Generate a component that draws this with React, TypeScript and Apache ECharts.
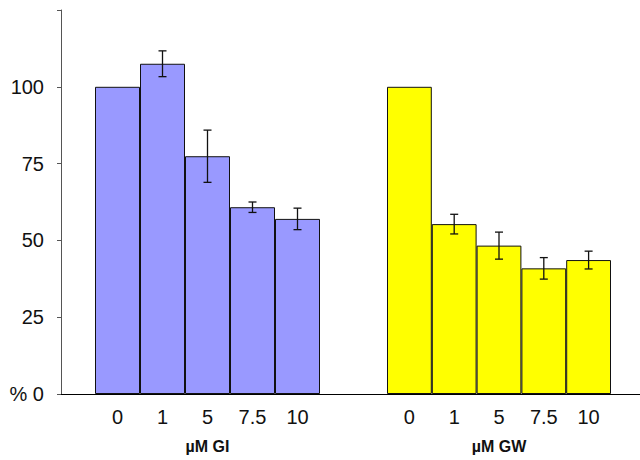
import React, { useEffect, useRef } from "react";
import * as echarts from "echarts";

const doses = ["0", "1", "5", "7.5", "10"];
const giMeans = [100, 107.5, 77.4, 60.8, 57.0];
const giErrors = [0, 4.2, 8.5, 1.7, 3.5];
const gwMeans = [100, 55.3, 48.3, 40.9, 43.6];
const gwErrors = [0, 3.2, 4.4, 3.5, 2.9];
const yTicks = [0, 25, 50, 75, 100, 125];
const groupNames = ["µM GI", "µM GW"];

const FONT = "Arial, 'Liberation Sans', sans-serif";

function errData(means: number[], errs: number[]) {
  return means
    .map((m, i) => [i, m - errs[i], m + errs[i], errs[i]])
    .filter((d) => d[3] > 0);
}

function renderErr(params: any, api: any) {
  const x = api.value(0);
  const lo = api.coord([x, api.value(1)]);
  const hi = api.coord([x, api.value(2)]);
  const h = 4;
  const style = { stroke: "#111", lineWidth: 1.3 };
  return {
    type: "group",
    children: [
      { type: "line", shape: { x1: hi[0], y1: hi[1], x2: lo[0], y2: lo[1] }, style },
      { type: "line", shape: { x1: hi[0] - h, y1: hi[1], x2: hi[0] + h, y2: hi[1] }, style },
      { type: "line", shape: { x1: lo[0] - h, y1: lo[1], x2: lo[0] + h, y2: lo[1] }, style },
    ],
  };
}

export default function App() {
  const ref = useRef<HTMLDivElement>(null);
  useEffect(() => {
    document.body.style.margin = "0";
    const chart = echarts.init(ref.current!, null, { renderer: "svg" });
    const groupX = (idx: number) => ({
      type: "category",
      gridIndex: idx,
      data: doses,
      axisLine: { show: false },
      axisTick: { show: false },
      axisLabel: { fontSize: 20, margin: 13, color: "#111", fontFamily: FONT },
      name: groupNames[idx - 1],
      nameLocation: "middle",
      nameGap: 44,
      nameTextStyle: { fontSize: 16, fontWeight: "bold", color: "#111", fontFamily: FONT },
    });
    const hiddenY = (idx: number) => ({
      type: "value",
      gridIndex: idx,
      min: yTicks[0],
      max: yTicks[yTicks.length - 1],
      show: false,
      splitLine: { show: false },
    });
    const bar = (idx: number, data: number[], color: string) => ({
      type: "bar",
      xAxisIndex: idx,
      yAxisIndex: idx,
      data,
      barWidth: "100%",
      itemStyle: { color, borderColor: "#111", borderWidth: 1 },
    });
    const err = (idx: number, means: number[], errs: number[]) => ({
      type: "custom",
      xAxisIndex: idx,
      yAxisIndex: idx,
      data: errData(means, errs),
      renderItem: renderErr,
      z: 5,
    });
    chart.setOption({
      animation: false,
      backgroundColor: "#fff",
      grid: [
        { left: 61, right: 0, top: 10, height: 384 },
        { left: 95, width: 225, top: 10, height: 384 },
        { left: 387, width: 224, top: 10, height: 384 },
      ],
      xAxis: [
        {
          type: "value",
          gridIndex: 0,
          min: 0,
          max: 1,
          axisLine: { show: true, onZero: false, lineStyle: { color: "#000", width: 1 } },
          axisTick: { show: false },
          axisLabel: { show: false },
          splitLine: { show: false },
        },
        groupX(1),
        groupX(2),
      ],
      yAxis: [
        {
          type: "value",
          gridIndex: 0,
          min: yTicks[0],
          max: yTicks[yTicks.length - 1],
          interval: 25,
          axisLine: { show: true, lineStyle: { color: "#555", width: 1 } },
          axisTick: { show: true, length: 4, lineStyle: { color: "#555" } },
          splitLine: { show: false },
          axisLabel: {
            fontSize: 20,
            margin: 17,
            color: "#111",
            fontFamily: FONT,
            formatter: (v: number) => (v === 0 ? "% 0" : v === 125 ? "" : String(v)),
          },
        },
        hiddenY(1),
        hiddenY(2),
      ],
      series: [
        bar(1, giMeans, "#9999FF"),
        bar(2, gwMeans, "#FFFF00"),
        err(1, giMeans, giErrors),
        err(2, gwMeans, gwErrors),
      ],
    });
    return () => chart.dispose();
  }, []);
  return <div ref={ref} style={{ width: 640, height: 460 }} />;
}
